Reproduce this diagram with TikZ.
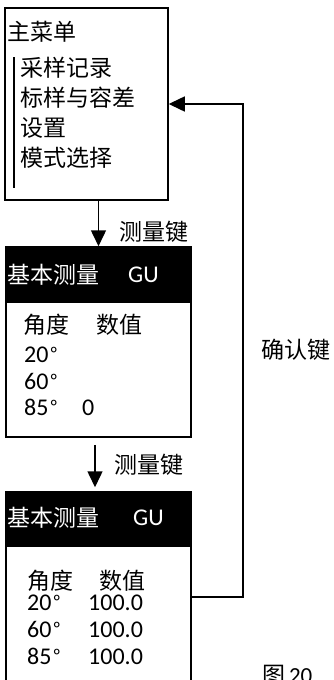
\documentclass[tikz,border=0pt]{standalone}
\usepackage{fontspec}
\setmainfont{Carlito}
\newfontfamily\cjk{Noto Sans CJK SC}
\usetikzlibrary{arrows.meta}
\newcommand{\dg}{\hspace{1.5pt}{\cjk\fontsize{20}{24}\selectfont °}}
\begin{document}
\begin{tikzpicture}[x=1pt,y=-1pt,
  frame/.style={draw,line width=1.5pt,inner sep=0pt},
  band/.style={fill=black,draw=black,line width=1.5pt,inner sep=0pt},
  zh/.style={inner sep=0pt,anchor=base west,font=\cjk\fontsize{23}{26}\selectfont},
  lat/.style={inner sep=0pt,anchor=base west,font=\fontsize{24}{26}\selectfont},
  arr/.style={line width=1.5pt,-{Triangle[length=16pt 0,width=15pt 0]}}
]
\useasboundingbox (0,0) rectangle (333,680);
\clip (0,0) rectangle (333,680);

% box 1: main menu
\node[frame,minimum width=163pt,minimum height=192pt] (box1) at (86.5,104) {};
\node[zh] (m0) at (7,40) {主菜单};
\draw[line width=1.5pt] (14,57) -- (14,188);
\node[zh] (m1) at (20,76.5) {采样记录};
\node[zh] (m2) at (20,106.5) {标样与容差};
\node[zh] (m3) at (20,136.5) {设置};
\node[zh] (m4) at (20,166.5) {模式选择};

% box 2
\node[frame,minimum width=185pt,minimum height=190pt] (box2) at (98.5,342) {};
\node[band,minimum width=185pt,minimum height=55pt] (h2) at (98.5,274.5) {};
\node[zh,text=white] (h2a) at (7,283.5) {基本测量};
\node[lat,text=white] (h2b) at (128,282.5) {GU};
\node[zh] (b2a) at (23,333.5) {角度};
\node[zh] (b2b) at (96,333.5) {数值};
\node[lat] (b2c) at (24,362.5) {20\dg};
\node[lat] (b2d) at (24,389.5) {60\dg};
\node[lat] (b2e) at (24,415.5) {85\dg};
\node[lat] (b2f) at (82,415.5) {0};

% box 3 (runs off the bottom)
\node[frame,minimum width=185pt,minimum height=208pt] (box3) at (98.5,596) {};
\node[band,minimum width=185pt,minimum height=54pt] (h3) at (98.5,519) {};
\node[zh,text=white] (h3a) at (7,526.5) {基本测量};
\node[lat,text=white] (h3b) at (133,525.5) {GU};
\node[zh] (b3a) at (27,589.5) {角度};
\node[zh] (b3b) at (99,589.5) {数值};
\node[lat] (b3c) at (27,610.5) {20\dg};
\node[lat] (b3d) at (27,637.5) {60\dg};
\node[lat] (b3e) at (27,664.5) {85\dg};
\node[lat] (b3f) at (88,610.5) {100.0};
\node[lat] (b3g) at (88,637.5) {100.0};
\node[lat] (b3h) at (88,664.5) {100.0};

% connectors
\draw[arr] (box1.south -| box2.north) -- (box2.north);
\node[zh] (k1) at (119,240.5) {测量键};
\draw[arr,shorten <=7pt,shorten >=4pt] ([xshift=-3.5pt]box2.south) -- ([xshift=-3.5pt]box3.north);
\node[zh] (k2) at (114,473.5) {测量键};

\coordinate (r1) at (243,597);
\coordinate (r2) at (243,104);
\draw[arr] (box3.east |- r1) -- (r1) -- (r2) -- (r2 -| box1.east);
\node[zh] (k3) at (261,358.5) {确认键};

\node[zh] (fig) at (262,683) {图\,\fontspec{Carlito}20};
\end{tikzpicture}
\end{document}
